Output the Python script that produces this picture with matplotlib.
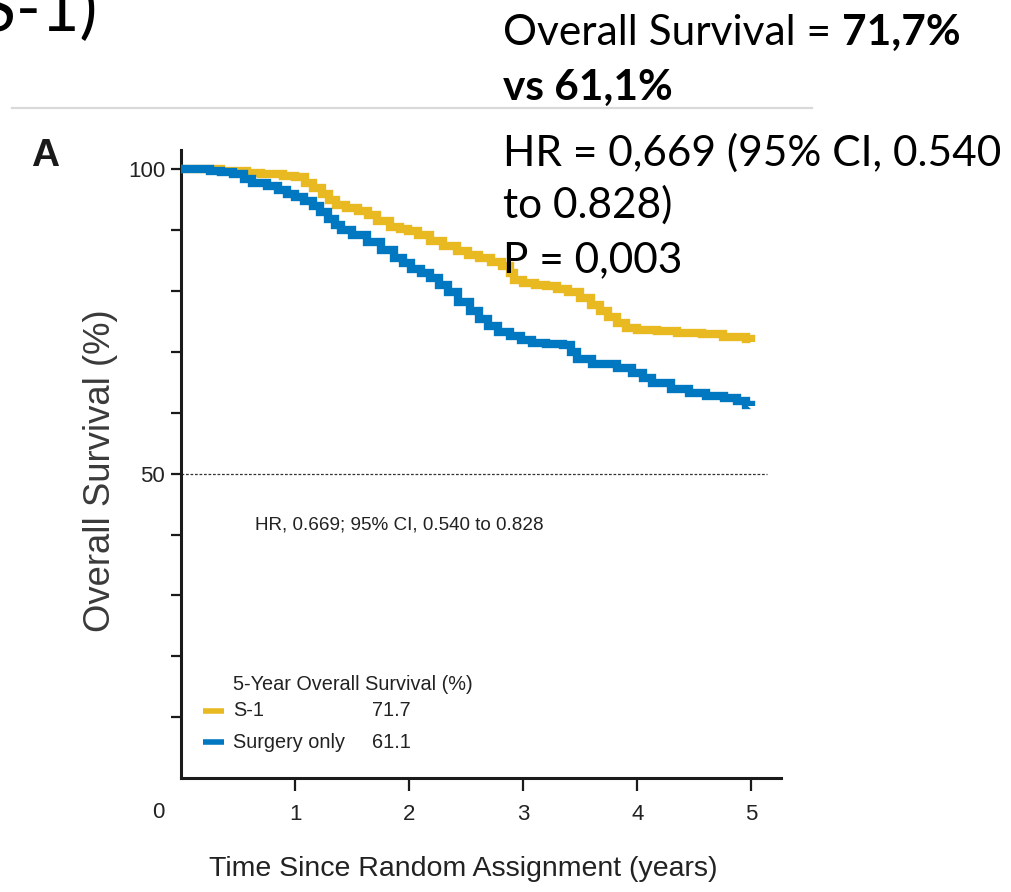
import matplotlib
matplotlib.use("Agg")
import matplotlib.pyplot as plt

# Kaplan-Meier overall survival (%) by years since random assignment
years_s1 = [0, 0.35, 0.45, 0.58, 0.70, 0.89, 1.00, 1.09, 1.16, 1.24, 1.30, 1.36,
            1.45, 1.55, 1.64, 1.72, 1.83, 1.92, 1.99, 2.08, 2.18, 2.30, 2.42,
            2.52, 2.61, 2.72, 2.81, 2.88, 2.92, 3.00, 3.10, 3.20, 3.30, 3.39,
            3.50, 3.59, 3.67, 3.74, 3.82, 3.90, 4.00, 4.17, 4.35, 4.57, 4.75,
            4.95, 5.00]
surv_s1 = [100, 99.8, 99.7, 99.5, 99.3, 99.0, 98.7, 97.8, 97.0, 95.9, 95.0, 94.2,
           93.6, 93.2, 92.6, 91.6, 90.6, 90.2, 89.9, 89.2, 88.2, 87.5, 86.6,
           86.0, 85.5, 84.8, 84.1, 83.0, 81.9, 81.4, 81.0, 80.8, 80.3, 79.8,
           78.9, 77.8, 76.8, 75.7, 74.8, 74.0, 73.7, 73.4, 73.2, 72.9, 72.5,
           72.1, 71.7]

years_surgery = [0, 0.25, 0.35, 0.46, 0.55, 0.62, 0.75, 0.85, 0.93, 1.00, 1.08,
                 1.16, 1.22, 1.29, 1.35, 1.40, 1.50, 1.63, 1.75, 1.87, 1.95, 2.02,
                 2.10, 2.18, 2.26, 2.34, 2.43, 2.53, 2.61, 2.69, 2.78, 2.88, 2.98,
                 3.08, 3.20, 3.35, 3.42, 3.47, 3.60, 3.82, 3.95, 4.05, 4.13, 4.30,
                 4.45, 4.60, 4.76, 4.87, 4.95, 5.00]
surv_surgery = [100, 99.8, 99.6, 99.2, 98.5, 97.8, 97.3, 96.7, 96.0, 95.4, 94.8,
                94.0, 93.0, 91.8, 90.9, 90.1, 89.2, 88.0, 86.8, 85.5, 84.6, 83.6,
                83.0, 82.2, 81.0, 79.8, 78.3, 76.7, 75.4, 74.2, 73.3, 72.6, 71.9,
                71.5, 71.3, 71.2, 70.0, 68.8, 68.0, 67.4, 66.6, 65.7, 64.9, 64.0,
                63.3, 62.8, 62.4, 61.9, 61.3, 61.1]

group_labels = ["S-1", "Surgery only"]
five_year_os = ["71.7", "61.1"]
x_ticks = [1, 2, 3, 4, 5]
y_ticks = [10, 20, 30, 40, 50, 60, 70, 80, 90, 100]
y_labelled = {50: "50", 100: "100"}

YELLOW = "#E9B921"
BLUE = "#0078C1"
INK = "#222222"
SANS = ["Liberation Sans", "DejaVu Sans"]
SLIDE = ["Lato", "DejaVu Sans"]

W, H = 1011, 892
fig = plt.figure(figsize=(W / 100, H / 100), dpi=100)


def fx(x):
    return x / W


def fy(y):
    return 1 - y / H


# ---- survival plot ----
ax = fig.add_axes([fx(181), fy(778), (781 - 181) / W, (778 - 150) / H])
ax.set_xlim(0, 5.26)
ax.set_ylim(0, 103.2)

for t, s, c in [(years_s1, surv_s1, YELLOW), (years_surgery, surv_surgery, BLUE)]:
    ax.step(t, s, where="post", color=c, lw=6, solid_capstyle="butt",
            solid_joinstyle="miter", zorder=3)

ax.axhline(50, xmin=0, xmax=5.14 / 5.26, color="#333333", lw=0.9,
           linestyle=(0, (2.2, 1.4)), zorder=2)

for side in ("top", "right"):
    ax.spines[side].set_visible(False)
for side in ("left", "bottom"):
    ax.spines[side].set_linewidth(2.2)
    ax.spines[side].set_color("#1a1a1a")

ax.set_xticks(x_ticks)
ax.set_xticklabels([str(v) for v in x_ticks], fontfamily=SANS, fontsize=16)
ax.set_yticks(y_ticks)
ax.set_yticklabels([y_labelled.get(v, "") for v in y_ticks],
                   fontfamily=SANS, fontsize=16)
ax.tick_params(axis="x", direction="out", length=9, width=1.6, pad=10,
               colors="#1a1a1a", labelcolor=INK)
ax.tick_params(axis="y", direction="out", length=7.5, width=1.6, pad=4,
               colors="#1a1a1a", labelcolor=INK)

fig.text(fx(158), fy(812), "0", fontfamily=SANS, fontsize=16,
         ha="center", va="center", color=INK)

fig.text(fx(101), fy(471), "Overall Survival (%)", rotation=90,
         fontfamily=SANS, fontsize=26.3, ha="center", va="center",
         color="#3a3a3a")
fig.text(fx(463), fy(869), "Time Since Random Assignment (years)",
         fontfamily=SANS, fontsize=20.5, ha="center", va="center", color=INK)

fig.text(fx(255), fy(525), "HR, 0.669; 95% CI, 0.540 to 0.828",
         fontfamily=SANS, fontsize=13.6, ha="left", va="center", color=INK)

# legend block
fig.text(fx(233), fy(684), "5-Year Overall Survival (%)", fontfamily=SANS,
         fontsize=14.3, ha="left", va="center", color=INK)
for i, (lab, val, col) in enumerate(zip(group_labels, five_year_os,
                                        [YELLOW, BLUE])):
    yy = 711 + i * 31
    fig.add_artist(plt.Line2D([fx(203), fx(224)], [fy(yy), fy(yy)], color=col,
                              lw=4, solid_capstyle="butt"))
    fig.text(fx(233), fy(yy), lab, fontfamily=SANS, fontsize=14.3,
             ha="left", va="center", color=INK)
    fig.text(fx(372), fy(yy), val, fontfamily=SANS, fontsize=14.3,
             ha="left", va="center", color=INK)

fig.text(fx(45), fy(166), "A", fontfamily=SANS, fontweight="bold",
         fontsize=28, ha="center", va="baseline", color="#1a1a1a")

# ---- slide annotations ----
fig.text(fx(97), fy(31), "(S-1)", fontfamily=SLIDE, fontsize=48,
         ha="right", va="baseline", color="black")
fig.add_artist(plt.Line2D([fx(12), fx(812)], [fy(108), fy(108)],
                          color="#D9D9D9", lw=1.6))

SZ = 30.5
fig.canvas.draw()
renderer = fig.canvas.get_renderer()
t1 = fig.text(fx(503), fy(45), "Overall Survival = ", fontfamily=SLIDE,
              fontsize=SZ, ha="left", va="baseline", color="black")
bb = t1.get_window_extent(renderer)
fig.text(bb.x1 / W, fy(45), "71,7%", fontfamily=SLIDE, fontsize=SZ,
         fontweight="bold", ha="left", va="baseline", color="black")
fig.text(fx(503), fy(100), "vs 61,1%", fontfamily=SLIDE, fontsize=SZ,
         fontweight="bold", ha="left", va="baseline", color="black")
fig.text(fx(503), fy(166), "HR = 0,669 (95% CI, 0.540", fontfamily=SLIDE,
         fontsize=SZ, ha="left", va="baseline", color="black")
fig.text(fx(503), fy(218), "to 0.828)", fontfamily=SLIDE, fontsize=SZ,
         ha="left", va="baseline", color="black")
fig.text(fx(503), fy(272), "P = 0,003", fontfamily=SLIDE, fontsize=SZ,
         ha="left", va="baseline", color="black")

fig.savefig("out.png", dpi=100, facecolor="white")
